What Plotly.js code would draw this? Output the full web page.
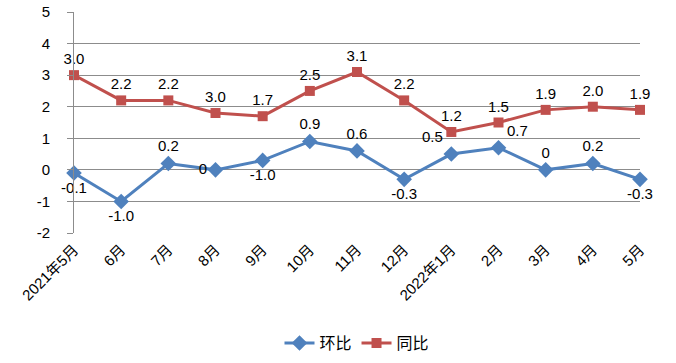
<!DOCTYPE html>
<html><head><meta charset="utf-8">
<script src="https://cdn.plot.ly/plotly-3.0.1.min.js"></script>
<style>body{margin:0;background:#fff}#c{width:676px;height:363px}</style>
</head><body><div id="c"></div>
<script>
const categories = ["2021年5月","6月","7月","8月","9月","10月","11月","12月","2022年1月","2月","3月","4月","5月"];
const hbValues = [-0.1,-1.0,0.2,0,0.3,0.9,0.6,-0.3,0.5,0.7,0,0.2,-0.3];
const hbLabels = ["-0.1","-1.0","0.2","0","-1.0","0.9","0.6","-0.3","0.5","0.7","0","0.2","-0.3"];
const tbValues = [3.0,2.2,2.2,1.8,1.7,2.5,3.1,2.2,1.2,1.5,1.9,2.0,1.9];
const tbLabels = ["3.0","2.2","2.2","3.0","1.7","2.5","3.1","2.2","1.2","1.5","1.9","2.0","1.9"];
const yTicks = [-2,-1,0,1,2,3,4,5];
const yTickText = ["-2","-1","0","1","2","3","4","5"];

const hbPos = ["bottom center","bottom center","top center","middle left","bottom center","top center","top center","bottom center","top left","top right","top center","top center","bottom center"];
const font = "'Liberation Sans', 'Noto Sans CJK SC', sans-serif";
const xIdx = categories.map((_, i) => i);

const traces = [
  {x: xIdx, y: hbValues, name: "环比", mode: "lines+markers+text", text: hbLabels,
   textposition: hbPos, textfont: {size: 15, color: "#000", family: font},
   line: {color: "#4F81BD", width: 3}, marker: {symbol: "diamond", size: 12, color: "#4F81BD"}, cliponaxis: false},
  {x: xIdx, y: tbValues, name: "同比", mode: "lines+markers+text", text: tbLabels,
   textposition: "top center", textfont: {size: 15, color: "#000", family: font},
   line: {color: "#C0504D", width: 3}, marker: {symbol: "square", size: 10, color: "#C0504D"}, cliponaxis: false}
];

const layout = {
  width: 676, height: 363,
  margin: {l: 74, r: 36, t: 12, b: 130},
  paper_bgcolor: "#fff", plot_bgcolor: "#fff",
  font: {family: font, size: 15, color: "#000"},
  showlegend: true,
  legend: {orientation: "h", x: 0.5, xanchor: "center", yref: "container", y: 0.055, yanchor: "middle",
           font: {size: 16, family: "'Noto Sans CJK SC', sans-serif"}},
  xaxis: {range: [0, 12], tickmode: "array", tickvals: xIdx, ticktext: categories, tickangle: -45, automargin: false,
          showgrid: false, zeroline: false, showline: false, ticks: "", ticklabelstandoff: 4,
          tickfont: {size: 15, family: "'Liberation Sans', 'Noto Sans CJK SC', sans-serif"}},
  yaxis: {range: [-2, 5], tickmode: "array", tickvals: yTicks, ticktext: yTickText, showgrid: true, gridcolor: "#8c8c8c", gridwidth: 1, automargin: false,
          zeroline: false, showline: true, linecolor: "#8c8c8c", ticks: "outside", ticklen: 6, tickcolor: "#8c8c8c",
          ticklabelstandoff: 14, tickfont: {size: 15}}
};
Plotly.newPlot("c", traces, layout, {displayModeBar: false});
</script></body></html>
